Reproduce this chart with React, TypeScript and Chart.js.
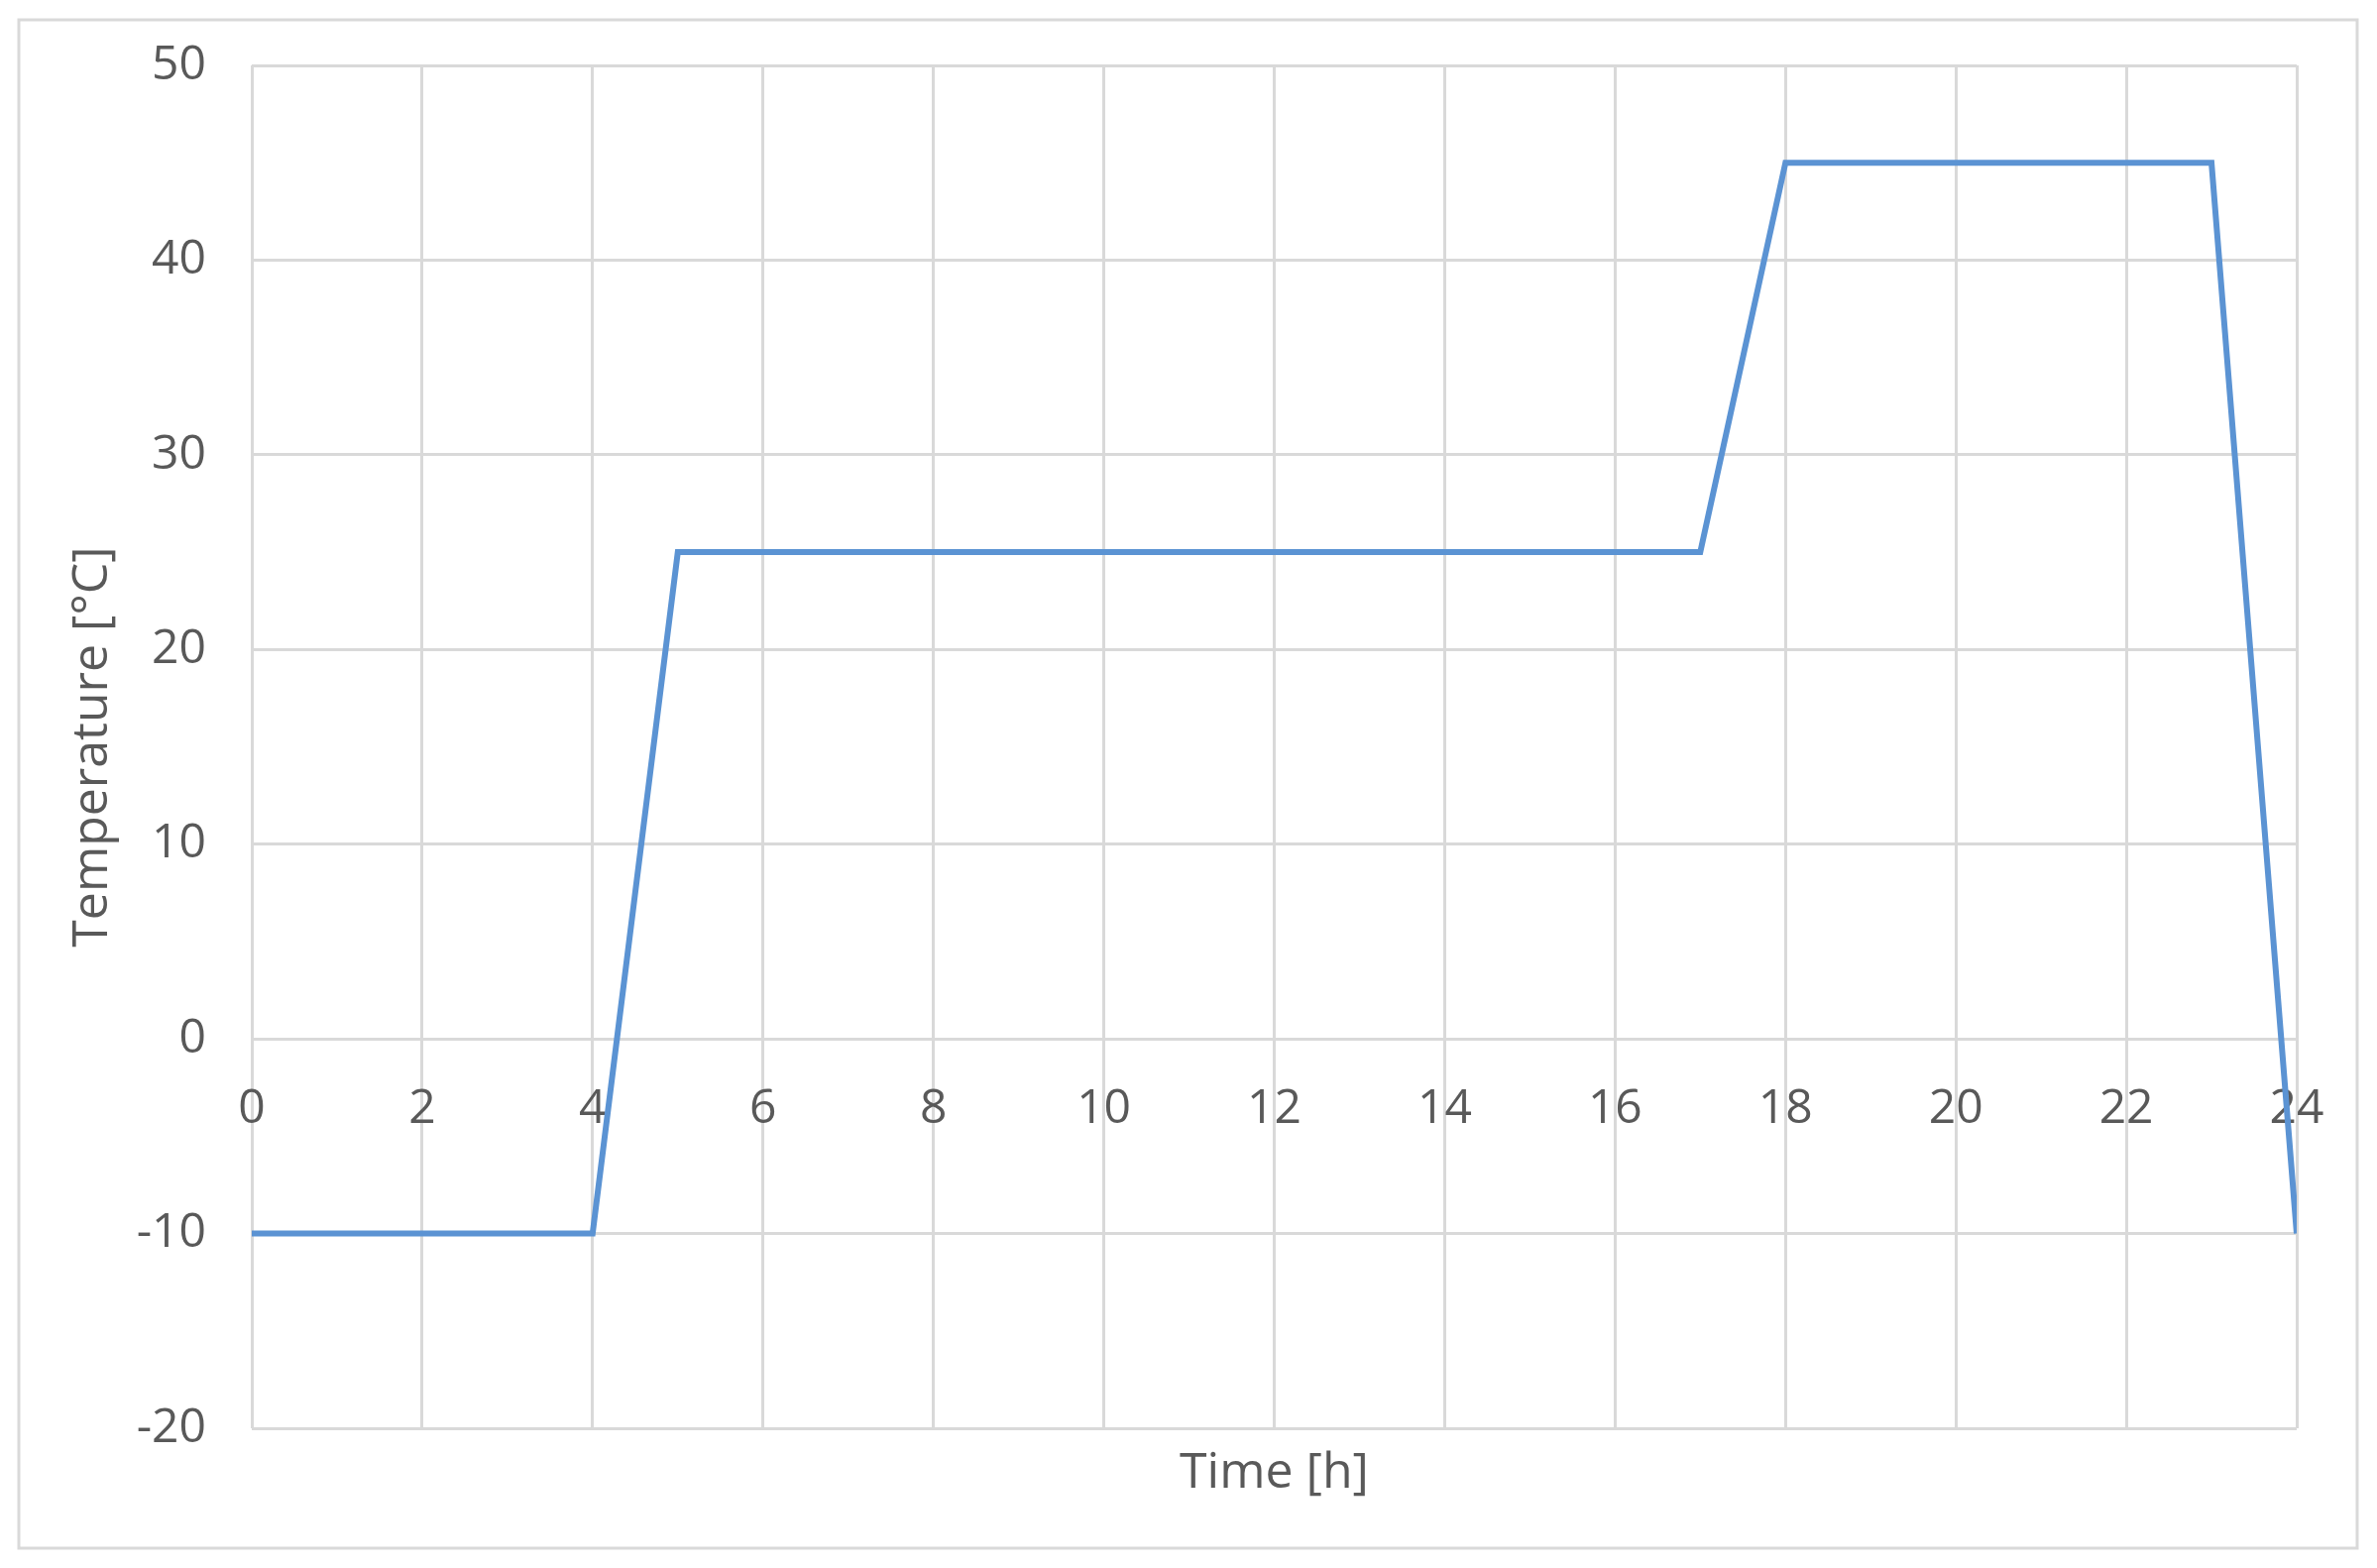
import React, { useEffect, useRef } from "react";
import { Chart, registerables } from "chart.js";

Chart.register(...registerables);

const timeH: number[] = [0, 4, 5, 17, 18, 23, 24];
const tempC: number[] = [-10, -10, 25, 25, 45, 45, -10];

const xTitle = "Time [h]";
const yTitle = "Temperature [°C]";
const xMin = 0;
const xMax = 24;
const xStep = 2;
const yMin = -20;
const yMax = 50;
const yStep = 10;

const FONT = "'Open Sans', 'DejaVu Sans', sans-serif";
const TEXT = "#595959";
const GRID = "#d9d9d9";
const LINE = "#5b93d3";

const frame = {
  id: "frame",
  beforeDraw(chart: any) {
    const ctx = chart.ctx;
    ctx.save();
    ctx.fillStyle = "#ffffff";
    ctx.fillRect(0, 0, chart.width, chart.height);
    ctx.strokeStyle = "#d9d9d9";
    ctx.lineWidth = 3;
    ctx.strokeRect(19, 20, chart.width - 39, chart.height - 40);
    ctx.restore();
  },
};

export default function App() {
  const ref = useRef<HTMLCanvasElement | null>(null);
  useEffect(() => {
    if (!ref.current) return;
    const chart = new Chart(ref.current, {
      type: "line",
      data: {
        datasets: [
          {
            data: timeH.map((t, i) => ({ x: t, y: tempC[i] })),
            borderColor: LINE,
            borderWidth: 6,
            pointRadius: 0,
            fill: false,
            tension: 0,
          },
        ],
      },
      options: {
        animation: false,
        responsive: false,
        maintainAspectRatio: false,
        layout: { padding: { left: 0, top: 66, right: 81, bottom: 65 } },
        plugins: { legend: { display: false }, tooltip: { enabled: false } },
        scales: {
          x: {
            type: "linear",
            position: { y: 0 } as any,
            min: xMin,
            max: xMax,
            ticks: {
              stepSize: xStep,
              color: TEXT,
              font: { family: FONT, size: 48 },
              padding: 42,
              maxRotation: 0,
            },
            grid: { color: GRID, lineWidth: 3, drawTicks: false },
            border: { display: true, color: GRID, width: 3 },
          },
          xb: {
            type: "linear",
            position: "bottom",
            min: xMin,
            max: xMax,
            ticks: { display: false },
            grid: { display: false, drawTicks: false },
            border: { display: false },
            title: {
              display: true,
              text: xTitle,
              color: TEXT,
              font: { family: FONT, size: 50 },
              padding: { top: 16, bottom: 0 },
            },
          },
          y: {
            type: "linear",
            position: "left",
            min: yMin,
            max: yMax,
            ticks: {
              stepSize: yStep,
              color: TEXT,
              font: { family: FONT, size: 48 },
              padding: 46,
            },
            grid: { color: GRID, lineWidth: 3, drawTicks: false },
            border: { display: false },
            title: {
              display: true,
              text: yTitle,
              color: TEXT,
              font: { family: FONT, size: 50 },
              padding: { top: 64, bottom: 0 },
            },
            afterFit: (scale: any) => {
              scale.width = 254;
              scale.paddingTop = 0;
              scale.paddingBottom = 0;
            },
          },
        },
      },
      plugins: [frame],
    });
    return () => chart.destroy();
  }, []);
  return (
    <div style={{ position: "absolute", left: 0, top: 0, width: 2398, height: 1582, background: "#fff" }}>
      <canvas ref={ref} width={2398} height={1582} style={{ display: "block" }} />
    </div>
  );
}
